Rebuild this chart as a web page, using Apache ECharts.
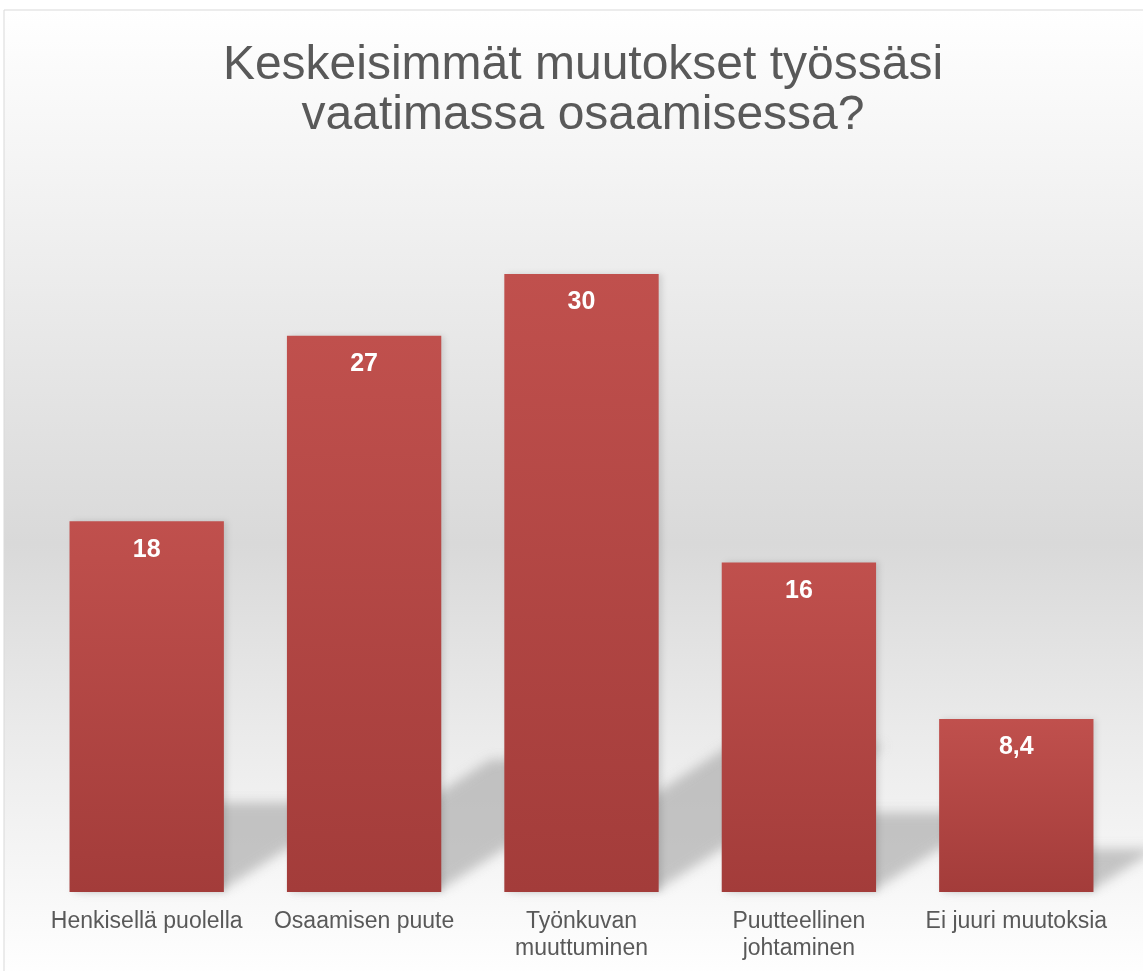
<!DOCTYPE html>
<html>
<head>
<meta charset="UTF-8">
<title>Keskeisimmät muutokset</title>
<script src="https://cdn.jsdelivr.net/npm/echarts@6/dist/echarts.min.js"></script>
<style>
  html, body { margin: 0; padding: 0; background: #ffffff; }
  #main { width: 1143px; height: 971px; }
</style>
</head>
<body>
<div id="main"></div>
<script type="text/javascript">
    // data
    var categories = ['Henkisellä puolella', 'Osaamisen puute', 'Työnkuvan\nmuuttuminen', 'Puutteellinen\njohtaminen', 'Ei juuri muutoksia'];
    var values = [18, 27, 30, 16, 8.4];
    var titleText = 'Keskeisimmät muutokset työssäsi\nvaatimassa osaamisessa?';

    var myChart = echarts.init(document.getElementById('main'));

    // perspective shadow behind each bar (leans up and to the right)
    // the shape itself is pushed off screen, only its blurred shadow is drawn
    var OFF = 3000;
    function renderShadow(params, api) {
        var i = api.value(0);
        var base = api.coord([i, 0]);
        var top = api.coord([i, api.value(1)]);
        var w = api.size([1, 0])[0] * 0.71;
        var h = base[1] - top[1];
        var t = h * 0.233;
        var sx = h * 0.366;
        var x0 = base[0] - w / 2 - OFF, x1 = base[0] + w / 2 - OFF, y0 = base[1] - 3;
        return {
            type: 'polygon',
            shape: { points: [[x0 + 4, y0], [x1, y0], [x1 + sx, y0 - t], [x0 + sx, y0 - t]] },
            style: {
                fill: '#c4c4c4',
                shadowColor: 'rgba(165,165,165,0.62)',
                shadowBlur: 12,
                shadowOffsetX: OFF
            }
        };
    }

    var option = {
        backgroundColor: '#ffffff',
        graphic: [
            {
                type: 'rect',
                z: -10,
                shape: { x: 4, y: 10, width: 1150, height: 970 },
                style: {
                    fill: {
                        type: 'linear', x: 0, y: 0, x2: 0, y2: 1,
                        colorStops: [
                            { offset: 0, color: '#ffffff' },
                            { offset: 0.12, color: '#f7f7f7' },
                            { offset: 0.55, color: '#d9d9d9' },
                            { offset: 0.75, color: '#ebebeb' },
                            { offset: 1, color: '#ffffff' }
                        ]
                    },
                    stroke: '#d9d9d9',
                    lineWidth: 1
                }
            }
        ],
        title: {
            text: titleText,
            left: 578,
            textAlign: 'center',
            top: 36,
            textStyle: {
                fontFamily: 'Liberation Sans, Arial',
                fontSize: 48,
                fontWeight: 'normal',
                color: '#595959',
                lineHeight: 50
            }
        },
        grid: {
            left: 38,
            right: 18,
            top: 171,
            bottom: 79
        },
        xAxis: {
            type: 'category',
            data: categories,
            axisLine: { show: false },
            axisTick: { show: false },
            axisLabel: {
                interval: 0,
                margin: 16,
                fontFamily: 'Liberation Sans, Arial',
                fontSize: 23,
                lineHeight: 27,
                color: '#595959'
            }
        },
        yAxis: {
            type: 'value',
            min: 0,
            max: 35,
            show: false,
            splitLine: { show: false }
        },
        series: [
            {
                name: 'varjo',
                type: 'custom',
                silent: true,
                clip: false,
                z: 1,
                renderItem: renderShadow,
                data: values.map(function (v, i) { return [i, v]; })
            },
            {
                name: 'arvo',
                type: 'bar',
                z: 2,
                barWidth: '71%',
                data: values,
                itemStyle: {
                    color: {
                        type: 'linear', x: 0, y: 0, x2: 0, y2: 1,
                        colorStops: [
                            { offset: 0, color: '#c0504d' },
                            { offset: 1, color: '#a33c3a' }
                        ]
                    },
                    shadowColor: 'rgba(0,0,0,0.12)',
                    shadowBlur: 6,
                    shadowOffsetX: 3
                },
                label: {
                    show: true,
                    position: 'insideTop',
                    distance: 16,
                    formatter: function (p) { return String(p.value).replace('.', ','); },
                    fontFamily: 'Liberation Sans, Arial',
                    fontSize: 25,
                    fontWeight: 'bold',
                    color: '#ffffff'
                }
            }
        ]
    };
    myChart.setOption(option);
</script>
</body>
</html>
